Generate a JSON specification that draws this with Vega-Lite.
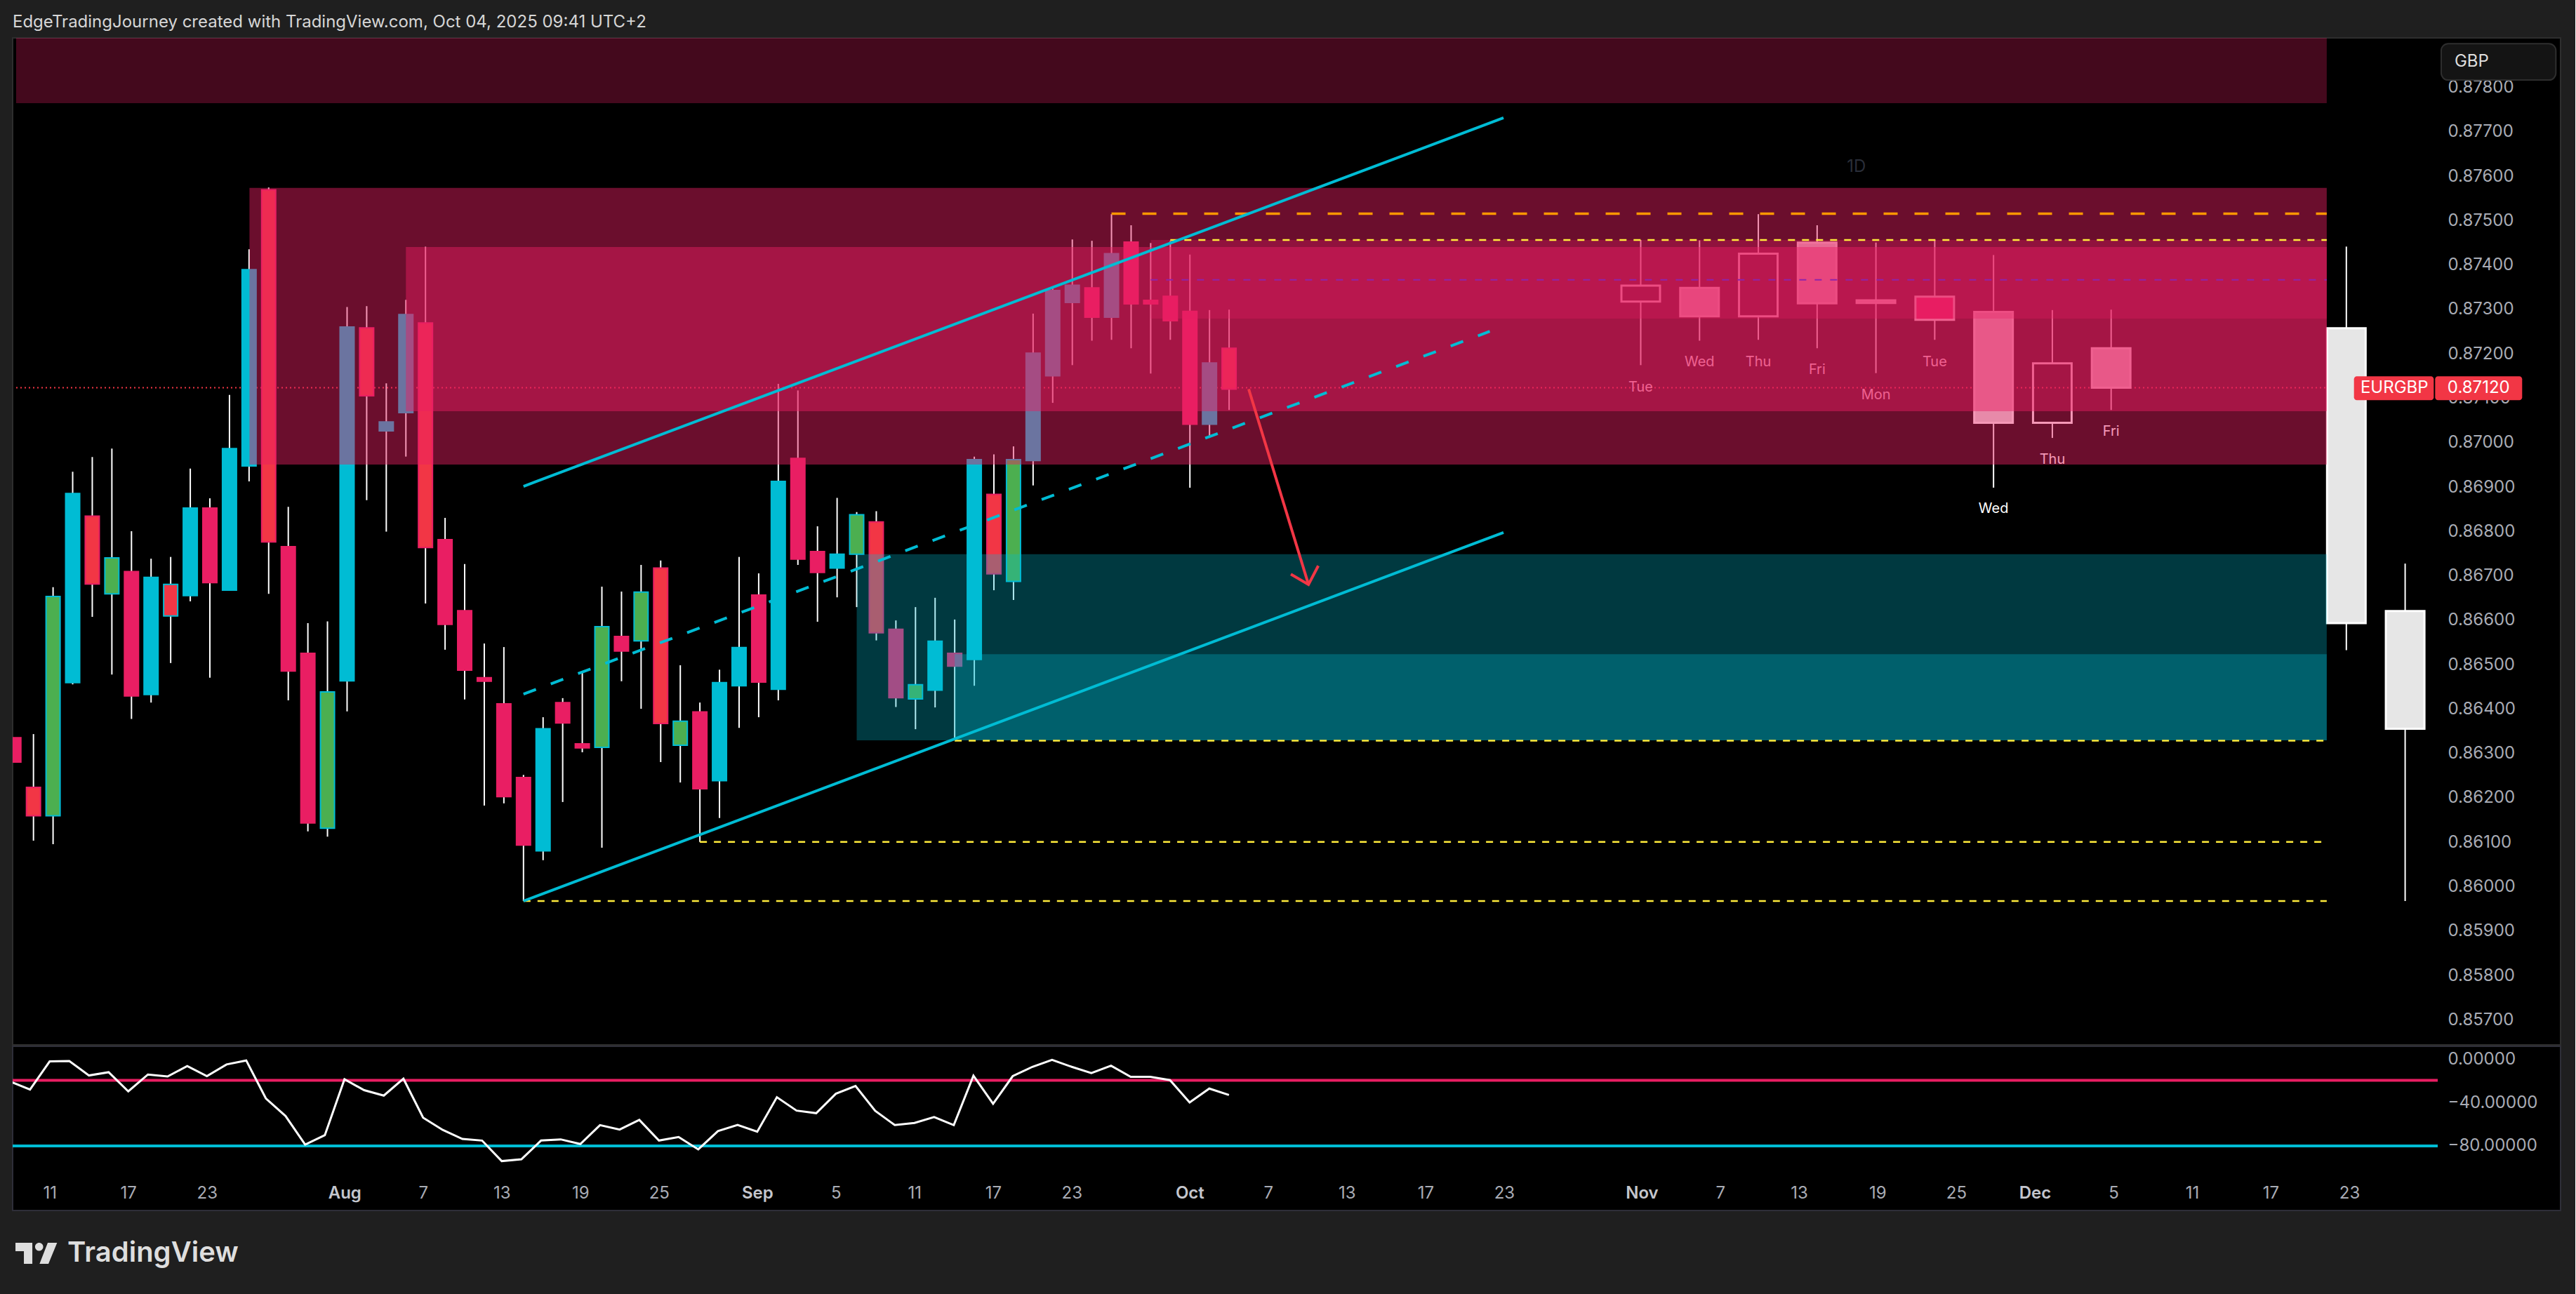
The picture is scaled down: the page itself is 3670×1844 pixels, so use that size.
{"$schema":"https://vega.github.io/schema/vega-lite/v6.json","background":"#1f1f1f","padding":{"left":15,"top":20,"right":20,"bottom":0},"spacing":0,"title":{"text":"EdgeTradingJourney created with TradingView.com, Oct 04, 2025 09:41 UTC+2","anchor":"start","frame":"group","color":"#d6d6d6","font":"Inter","fontSize":24,"fontWeight":400,"offset":9},"config":{"text":{"font":"Inter"},"axis":{"labelFont":"Inter","labelFontSize":24,"grid":false,"ticks":false,"domain":false,"title":null}},"datasets":{"candles":[{"i":-2,"high":0.86334,"low":0.86279,"top":0.86334,"bottom":0.86279,"kind":"p"},{"i":-1,"high":0.86342,"low":0.86102,"top":0.86222,"bottom":0.86158,"kind":"r"},{"i":0,"high":0.86673,"low":0.86094,"top":0.86652,"bottom":0.86158,"kind":"g"},{"i":1,"high":0.86933,"low":0.86454,"top":0.86884,"bottom":0.86458,"kind":"c"},{"i":2,"high":0.86966,"low":0.86606,"top":0.86833,"bottom":0.8668,"kind":"r"},{"i":3,"high":0.86985,"low":0.86476,"top":0.86739,"bottom":0.86658,"kind":"g"},{"i":4,"high":0.86799,"low":0.86376,"top":0.86708,"bottom":0.86428,"kind":"p"},{"i":5,"high":0.86737,"low":0.86413,"top":0.86695,"bottom":0.86431,"kind":"c"},{"i":6,"high":0.86741,"low":0.86502,"top":0.86679,"bottom":0.86608,"kind":"x"},{"i":7,"high":0.8694,"low":0.86641,"top":0.86851,"bottom":0.86654,"kind":"c"},{"i":8,"high":0.86873,"low":0.86469,"top":0.86851,"bottom":0.86683,"kind":"p"},{"i":9,"high":0.87106,"low":0.86665,"top":0.86985,"bottom":0.86666,"kind":"c"},{"i":10,"high":0.87434,"low":0.86911,"top":0.87388,"bottom":0.86946,"kind":"c"},{"i":11,"high":0.87573,"low":0.86658,"top":0.87568,"bottom":0.86775,"kind":"r"},{"i":12,"high":0.86854,"low":0.86418,"top":0.86764,"bottom":0.86484,"kind":"p"},{"i":13,"high":0.86592,"low":0.86123,"top":0.86524,"bottom":0.86142,"kind":"p"},{"i":14,"high":0.86596,"low":0.86111,"top":0.86437,"bottom":0.8613,"kind":"g"},{"i":15,"high":0.87304,"low":0.86393,"top":0.87259,"bottom":0.86462,"kind":"c"},{"i":16,"high":0.87306,"low":0.86869,"top":0.87257,"bottom":0.87104,"kind":"r"},{"i":17,"high":0.87132,"low":0.86798,"top":0.87045,"bottom":0.87025,"kind":"c"},{"i":18,"high":0.8732,"low":0.86967,"top":0.87287,"bottom":0.87066,"kind":"c"},{"i":19,"high":0.8744,"low":0.86636,"top":0.87268,"bottom":0.86762,"kind":"r"},{"i":20,"high":0.86829,"low":0.86532,"top":0.8678,"bottom":0.86589,"kind":"p"},{"i":21,"high":0.86725,"low":0.8642,"top":0.8662,"bottom":0.86486,"kind":"p"},{"i":22,"high":0.86546,"low":0.86181,"top":0.86469,"bottom":0.86461,"kind":"p"},{"i":23,"high":0.86538,"low":0.86186,"top":0.8641,"bottom":0.86201,"kind":"p"},{"i":24,"high":0.8625,"low":0.85966,"top":0.86244,"bottom":0.86092,"kind":"p"},{"i":25,"high":0.8638,"low":0.86058,"top":0.86354,"bottom":0.86079,"kind":"c"},{"i":26,"high":0.86423,"low":0.86189,"top":0.86413,"bottom":0.86367,"kind":"p"},{"i":27,"high":0.86482,"low":0.86301,"top":0.8632,"bottom":0.86311,"kind":"p"},{"i":28,"high":0.86674,"low":0.86086,"top":0.86584,"bottom":0.86312,"kind":"g"},{"i":29,"high":0.86663,"low":0.86461,"top":0.86562,"bottom":0.86529,"kind":"p"},{"i":30,"high":0.86723,"low":0.86399,"top":0.86662,"bottom":0.86552,"kind":"g"},{"i":31,"high":0.86733,"low":0.86279,"top":0.86716,"bottom":0.86366,"kind":"r"},{"i":32,"high":0.86497,"low":0.86233,"top":0.86371,"bottom":0.86317,"kind":"g"},{"i":33,"high":0.86413,"low":0.86099,"top":0.86392,"bottom":0.86219,"kind":"p"},{"i":34,"high":0.86487,"low":0.86153,"top":0.86458,"bottom":0.86237,"kind":"c"},{"i":35,"high":0.86741,"low":0.86356,"top":0.86537,"bottom":0.86451,"kind":"c"},{"i":36,"high":0.86704,"low":0.8638,"top":0.86655,"bottom":0.86459,"kind":"p"},{"i":37,"high":0.87131,"low":0.86418,"top":0.86911,"bottom":0.86443,"kind":"c"},{"i":38,"high":0.87116,"low":0.86723,"top":0.86963,"bottom":0.86736,"kind":"p"},{"i":39,"high":0.8681,"low":0.86595,"top":0.86753,"bottom":0.86706,"kind":"p"},{"i":40,"high":0.86874,"low":0.8665,"top":0.86747,"bottom":0.86716,"kind":"c"},{"i":41,"high":0.86842,"low":0.86628,"top":0.86836,"bottom":0.86747,"kind":"g"},{"i":42,"high":0.86844,"low":0.86553,"top":0.8682,"bottom":0.8657,"kind":"r"},{"i":43,"high":0.86598,"low":0.86403,"top":0.86578,"bottom":0.86424,"kind":"p"},{"i":44,"high":0.86628,"low":0.86353,"top":0.86453,"bottom":0.86421,"kind":"g"},{"i":45,"high":0.86649,"low":0.86402,"top":0.86551,"bottom":0.86441,"kind":"c"},{"i":46,"high":0.866,"low":0.8633,"top":0.86524,"bottom":0.86495,"kind":"p"},{"i":47,"high":0.86967,"low":0.86451,"top":0.8696,"bottom":0.8651,"kind":"c"},{"i":48,"high":0.86972,"low":0.86666,"top":0.86882,"bottom":0.86703,"kind":"r"},{"i":49,"high":0.8699,"low":0.86644,"top":0.8696,"bottom":0.86686,"kind":"g"},{"i":50,"high":0.87289,"low":0.86902,"top":0.872,"bottom":0.86958,"kind":"c"},{"i":51,"high":0.87346,"low":0.87088,"top":0.87341,"bottom":0.87149,"kind":"c"},{"i":52,"high":0.87456,"low":0.87173,"top":0.87353,"bottom":0.87314,"kind":"c"},{"i":53,"high":0.87453,"low":0.87228,"top":0.87347,"bottom":0.87281,"kind":"p"},{"i":54,"high":0.87513,"low":0.8723,"top":0.87424,"bottom":0.87281,"kind":"c"},{"i":55,"high":0.87488,"low":0.87211,"top":0.8745,"bottom":0.87311,"kind":"p"},{"i":56,"high":0.87448,"low":0.87154,"top":0.87319,"bottom":0.87311,"kind":"p"},{"i":57,"high":0.87453,"low":0.8723,"top":0.87328,"bottom":0.87273,"kind":"p"},{"i":58,"high":0.87422,"low":0.86897,"top":0.87294,"bottom":0.8704,"kind":"p"},{"i":59,"high":0.87297,"low":0.87009,"top":0.87178,"bottom":0.8704,"kind":"c"},{"i":60,"high":0.87298,"low":0.87072,"top":0.87211,"bottom":0.87119,"kind":"r"}],"htf":[{"i":81,"high":0.87455,"low":0.87173,"top":0.87352,"bottom":0.87316,"kind":"hollow","day":"Tue","dayPrice":0.87123},{"i":84,"high":0.87454,"low":0.87228,"top":0.87347,"bottom":0.87283,"kind":"solid","day":"Wed","dayPrice":0.8718},{"i":87,"high":0.87513,"low":0.8723,"top":0.87424,"bottom":0.87283,"kind":"hollow","day":"Thu","dayPrice":0.8718},{"i":90,"high":0.87488,"low":0.87211,"top":0.87449,"bottom":0.87312,"kind":"solid","day":"Fri","dayPrice":0.87162},{"i":93,"high":0.87449,"low":0.87155,"top":0.87319,"bottom":0.87313,"kind":"solid","day":"Mon","dayPrice":0.87105},{"i":96,"high":0.87455,"low":0.8723,"top":0.87327,"bottom":0.87275,"kind":"pink","day":"Tue","dayPrice":0.8718},{"i":99,"high":0.87421,"low":0.86897,"top":0.87293,"bottom":0.87043,"kind":"solid","day":"Wed","dayPrice":0.86849},{"i":102,"high":0.87297,"low":0.87009,"top":0.87177,"bottom":0.87043,"kind":"hollow","day":"Thu","dayPrice":0.8696},{"i":105,"high":0.87298,"low":0.87072,"top":0.87211,"bottom":0.87122,"kind":"solid","day":"Fri","dayPrice":0.87023},{"i":117,"high":0.8744,"low":0.86531,"top":0.87256,"bottom":0.86592,"kind":"solid"},{"i":120,"high":0.86726,"low":0.85966,"top":0.86619,"bottom":0.86354,"kind":"solid"}],"zones":[{"zone":"supply top","from":-1.884,"to":116,"upper":0.8791,"lower":0.87763},{"zone":"supply wide","from":10.02,"to":116,"upper":0.87572,"lower":0.86949},{"zone":"supply mid","from":18,"to":116,"upper":0.87439,"lower":0.87069},{"zone":"supply inner","from":56,"to":116,"upper":0.87455,"lower":0.87278},{"zone":"demand wide","from":41,"to":116,"upper":0.86747,"lower":0.86328},{"zone":"demand inner","from":46,"to":116,"upper":0.86522,"lower":0.86328}],"levels":[{"name":"orange","from":54,"to":116,"price":0.87514},{"name":"yellow","from":57,"to":116,"price":0.87455},{"name":"yellow","from":46,"to":116,"price":0.86327},{"name":"yellow","from":33,"to":116,"price":0.86099},{"name":"yellow","from":24,"to":116,"price":0.85966},{"name":"purple","from":56,"to":116,"price":0.87365}],"lines":[{"name":"channel top","i":24,"price":0.869},{"name":"channel top","i":74,"price":0.8773},{"name":"channel bottom","i":24,"price":0.85966},{"name":"channel bottom","i":74,"price":0.86796},{"name":"channel mid","i":24,"price":0.86432},{"name":"channel mid","i":73.3,"price":0.87249},{"name":"arrow shaft","i":61,"price":0.87119},{"name":"arrow shaft","i":64.05,"price":0.86679},{"name":"arrow head","i":63.15,"price":0.86702},{"name":"arrow head","i":64.05,"price":0.86679},{"name":"arrow head","i":64.55,"price":0.86721}],"rsi":[{"i":-2,"v":-20.5},{"i":-1,"v":-27.9},{"i":0,"v":-1.9},{"i":1,"v":-1.5},{"i":2,"v":-14.9},{"i":3,"v":-11.9},{"i":4,"v":-29.6},{"i":5,"v":-14},{"i":6,"v":-15.8},{"i":7,"v":-6.2},{"i":8,"v":-15.5},{"i":9,"v":-4.7},{"i":10,"v":-1},{"i":11,"v":-36.1},{"i":12,"v":-52.4},{"i":13,"v":-78.8},{"i":14,"v":-70.1},{"i":15,"v":-18.4},{"i":16,"v":-28.5},{"i":17,"v":-33.5},{"i":18,"v":-17.9},{"i":19,"v":-53.9},{"i":20,"v":-65.3},{"i":21,"v":-73.6},{"i":22,"v":-75.1},{"i":23,"v":-94.1},{"i":24,"v":-92.4},{"i":25,"v":-75.1},{"i":26,"v":-74},{"i":27,"v":-78.3},{"i":28,"v":-60.8},{"i":29,"v":-64.9},{"i":30,"v":-56},{"i":31,"v":-75.1},{"i":32,"v":-71.8},{"i":33,"v":-83.3},{"i":34,"v":-66.4},{"i":35,"v":-60.6},{"i":36,"v":-66.9},{"i":37,"v":-35},{"i":38,"v":-47.4},{"i":39,"v":-49.8},{"i":40,"v":-31.8},{"i":41,"v":-24.6},{"i":42,"v":-47.6},{"i":43,"v":-60.8},{"i":44,"v":-58.8},{"i":45,"v":-53.4},{"i":46,"v":-60.8},{"i":47,"v":-15.1},{"i":48,"v":-41.1},{"i":49,"v":-15.5},{"i":50,"v":-6.9},{"i":51,"v":-0.5},{"i":52,"v":-6.9},{"i":53,"v":-12.7},{"i":54,"v":-5.8},{"i":55,"v":-16.2},{"i":56,"v":-16.2},{"i":57,"v":-19.2},{"i":58,"v":-39.8},{"i":59,"v":-27},{"i":60,"v":-32.9}],"rsiLevels":[{"name":"upper","from":-1.884,"to":121.5,"v":-19.4},{"name":"lower","from":-1.884,"to":121.5,"v":-80}]},"vconcat":[{"width":3630,"height":1435,"view":{"fill":"#000000","stroke":"#2e2e2e","strokeWidth":2},"resolve":{"scale":{"fill":"independent","stroke":"independent"}},"layer":[{"data":{"values":[{"from":-1.884,"to":117.4,"price":0.87122}]},"mark":{"type":"rule","color":"#f23645","strokeWidth":2,"strokeDash":[2,4],"clip":true},"encoding":{"x":{"field":"from","type":"quantitative","scale":{"domain":[-1.884,127.75],"nice":false,"zero":false},"axis":null},"x2":{"field":"to"},"y":{"field":"price","type":"quantitative","scale":{"domain":[0.85642,0.8791],"nice":false,"zero":false},"axis":{"orient":"right","offset":-161,"labelPadding":0,"labelAlign":"left","labelOffset":1,"labelColor":"#a9acb5","format":".5f","values":[0.857,0.858,0.859,0.86,0.861,0.862,0.863,0.864,0.865,0.866,0.867,0.868,0.869,0.87,0.871,0.872,0.873,0.874,0.875,0.876,0.877,0.878],"labelOverlap":false,"labelBound":false,"labelFlush":false}}}},{"data":{"name":"candles"},"mark":{"type":"rule","color":"#ffffff","strokeWidth":2,"clip":true},"encoding":{"x":{"field":"i","type":"quantitative","scale":{"domain":[-1.884,127.75],"nice":false,"zero":false},"axis":null},"y":{"field":"high","type":"quantitative","scale":{"domain":[0.85642,0.8791],"nice":false,"zero":false}},"y2":{"field":"low"}}},{"data":{"name":"candles"},"mark":{"type":"bar","orient":"vertical","size":20,"strokeWidth":2,"clip":true},"encoding":{"x":{"field":"i","type":"quantitative","scale":{"domain":[-1.884,127.75],"nice":false,"zero":false},"axis":null},"y":{"field":"top","type":"quantitative","scale":{"domain":[0.85642,0.8791],"nice":false,"zero":false}},"y2":{"field":"bottom"},"fill":{"field":"kind","type":"nominal","legend":null,"scale":{"domain":["c","p","r","g","x"],"range":["#00bcd4","#e91e63","#f23645","#4caf50","#f23645"]}},"stroke":{"field":"kind","type":"nominal","legend":null,"scale":{"domain":["c","p","r","g","x"],"range":["#00bcd4","#e91e63","#e91e63","#00bcd4","#00bcd4"]}}}},{"data":{"name":"htf"},"mark":{"type":"rule","color":"#ffffff","strokeWidth":2},"encoding":{"x":{"field":"i","type":"quantitative","scale":{"domain":[-1.884,127.75],"nice":false,"zero":false},"axis":null},"y":{"field":"high","type":"quantitative","scale":{"domain":[0.85642,0.8791],"nice":false,"zero":false}},"y2":{"field":"top"}}},{"data":{"name":"htf"},"mark":{"type":"rule","color":"#ffffff","strokeWidth":2},"encoding":{"x":{"field":"i","type":"quantitative","scale":{"domain":[-1.884,127.75],"nice":false,"zero":false},"axis":null},"y":{"field":"bottom","type":"quantitative","scale":{"domain":[0.85642,0.8791],"nice":false,"zero":false}},"y2":{"field":"low"}}},{"data":{"name":"htf"},"mark":{"type":"bar","orient":"vertical","size":55,"strokeWidth":3,"stroke":"#ffffff"},"encoding":{"x":{"field":"i","type":"quantitative","scale":{"domain":[-1.884,127.75],"nice":false,"zero":false},"axis":null},"y":{"field":"top","type":"quantitative","scale":{"domain":[0.85642,0.8791],"nice":false,"zero":false}},"y2":{"field":"bottom"},"fill":{"field":"kind","type":"nominal","legend":null,"scale":{"domain":["solid","hollow","pink"],"range":["#e6e6e6","transparent","#e91e63"]}}}},{"data":{"name":"htf"},"transform":[{"filter":"isValid(datum.day)"}],"mark":{"type":"text","color":"#ffffff","fontSize":20,"font":"Inter"},"encoding":{"x":{"field":"i","type":"quantitative","scale":{"domain":[-1.884,127.75],"nice":false,"zero":false},"axis":null},"y":{"field":"dayPrice","type":"quantitative","scale":{"domain":[0.85642,0.8791],"nice":false,"zero":false}},"text":{"field":"day"}}},{"data":{"name":"zones"},"transform":[{"filter":"datum.zone=='supply top'"}],"mark":{"type":"rect","clip":true,"color":"#e91e63","opacity":0.29},"encoding":{"x":{"field":"from","type":"quantitative","scale":{"domain":[-1.884,127.75],"nice":false,"zero":false},"axis":null},"x2":{"field":"to"},"y":{"field":"upper","type":"quantitative","scale":{"domain":[0.85642,0.8791],"nice":false,"zero":false}},"y2":{"field":"lower"}}},{"data":{"name":"zones"},"transform":[{"filter":"datum.zone=='supply wide'||datum.zone=='supply mid'"}],"mark":{"type":"rect","clip":true,"color":"#e91e63","opacity":0.46},"encoding":{"x":{"field":"from","type":"quantitative","scale":{"domain":[-1.884,127.75],"nice":false,"zero":false},"axis":null},"x2":{"field":"to"},"y":{"field":"upper","type":"quantitative","scale":{"domain":[0.85642,0.8791],"nice":false,"zero":false}},"y2":{"field":"lower"}}},{"data":{"name":"zones"},"transform":[{"filter":"datum.zone=='supply inner'"}],"mark":{"type":"rect","clip":true,"color":"#e91e63","opacity":0.3},"encoding":{"x":{"field":"from","type":"quantitative","scale":{"domain":[-1.884,127.75],"nice":false,"zero":false},"axis":null},"x2":{"field":"to"},"y":{"field":"upper","type":"quantitative","scale":{"domain":[0.85642,0.8791],"nice":false,"zero":false}},"y2":{"field":"lower"}}},{"data":{"name":"zones"},"transform":[{"filter":"datum.zone=='demand wide'||datum.zone=='demand inner'"}],"mark":{"type":"rect","clip":true,"color":"#00bcd4","opacity":0.3},"encoding":{"x":{"field":"from","type":"quantitative","scale":{"domain":[-1.884,127.75],"nice":false,"zero":false},"axis":null},"x2":{"field":"to"},"y":{"field":"upper","type":"quantitative","scale":{"domain":[0.85642,0.8791],"nice":false,"zero":false}},"y2":{"field":"lower"}}},{"data":{"name":"levels"},"transform":[{"filter":"datum.name=='orange'"}],"mark":{"type":"rule","color":"#ff9800","strokeWidth":3.5,"strokeDash":[20,24]},"encoding":{"x":{"field":"from","type":"quantitative","scale":{"domain":[-1.884,127.75],"nice":false,"zero":false},"axis":null},"x2":{"field":"to"},"y":{"field":"price","type":"quantitative","scale":{"domain":[0.85642,0.8791],"nice":false,"zero":false}}}},{"data":{"name":"levels"},"transform":[{"filter":"datum.name=='yellow'"}],"mark":{"type":"rule","color":"#ffeb3b","strokeWidth":2.5,"strokeDash":[10,10]},"encoding":{"x":{"field":"from","type":"quantitative","scale":{"domain":[-1.884,127.75],"nice":false,"zero":false},"axis":null},"x2":{"field":"to"},"y":{"field":"price","type":"quantitative","scale":{"domain":[0.85642,0.8791],"nice":false,"zero":false}}}},{"data":{"name":"levels"},"transform":[{"filter":"datum.name=='purple'"}],"mark":{"type":"rule","color":"#8e24aa","strokeWidth":2,"strokeDash":[10,12]},"encoding":{"x":{"field":"from","type":"quantitative","scale":{"domain":[-1.884,127.75],"nice":false,"zero":false},"axis":null},"x2":{"field":"to"},"y":{"field":"price","type":"quantitative","scale":{"domain":[0.85642,0.8791],"nice":false,"zero":false}}}},{"data":{"name":"lines"},"transform":[{"filter":"datum.name=='channel top'||datum.name=='channel bottom'"}],"mark":{"type":"line","color":"#00bcd4","strokeWidth":4},"encoding":{"x":{"field":"i","type":"quantitative","scale":{"domain":[-1.884,127.75],"nice":false,"zero":false},"axis":null},"y":{"field":"price","type":"quantitative","scale":{"domain":[0.85642,0.8791],"nice":false,"zero":false}},"detail":{"field":"name"}}},{"data":{"name":"lines"},"transform":[{"filter":"datum.name=='channel mid'"}],"mark":{"type":"line","color":"#00bcd4","strokeWidth":4,"strokeDash":[19,22.5]},"encoding":{"x":{"field":"i","type":"quantitative","scale":{"domain":[-1.884,127.75],"nice":false,"zero":false},"axis":null},"y":{"field":"price","type":"quantitative","scale":{"domain":[0.85642,0.8791],"nice":false,"zero":false}}}},{"data":{"name":"lines"},"transform":[{"filter":"datum.name=='arrow shaft'||datum.name=='arrow head'"}],"mark":{"type":"line","color":"#f23645","strokeWidth":4},"encoding":{"x":{"field":"i","type":"quantitative","scale":{"domain":[-1.884,127.75],"nice":false,"zero":false},"axis":null},"y":{"field":"price","type":"quantitative","scale":{"domain":[0.85642,0.8791],"nice":false,"zero":false}},"detail":{"field":"name"}}},{"data":{"values":[{"from":117.39,"to":121.46,"upper":0.87148,"lower":0.87094},{"from":121.53,"to":125.97,"upper":0.87148,"lower":0.87094}]},"mark":{"type":"rect","color":"#f23645","cornerRadius":4},"encoding":{"x":{"field":"from","type":"quantitative","scale":{"domain":[-1.884,127.75],"nice":false,"zero":false},"axis":null},"x2":{"field":"to"},"y":{"field":"upper","type":"quantitative","scale":{"domain":[0.85642,0.8791],"nice":false,"zero":false}},"y2":{"field":"lower"}}},{"data":{"values":[{"i":119.45,"price":0.87121,"label":"EURGBP"},{"i":123.75,"price":0.87121,"label":"0.87120"}]},"mark":{"type":"text","color":"#ffffff","fontSize":24,"font":"Inter"},"encoding":{"x":{"field":"i","type":"quantitative","scale":{"domain":[-1.884,127.75],"nice":false,"zero":false},"axis":null},"y":{"field":"price","type":"quantitative","scale":{"domain":[0.85642,0.8791],"nice":false,"zero":false}},"text":{"field":"label"}}},{"data":{"values":[{"from":121.84,"to":127.69,"upper":0.87897,"lower":0.87815}]},"mark":{"type":"rect","color":"#141414","stroke":"#2e2e2e","strokeWidth":2,"cornerRadius":10},"encoding":{"x":{"field":"from","type":"quantitative","scale":{"domain":[-1.884,127.75],"nice":false,"zero":false},"axis":null},"x2":{"field":"to"},"y":{"field":"upper","type":"quantitative","scale":{"domain":[0.85642,0.8791],"nice":false,"zero":false}},"y2":{"field":"lower"}}},{"data":{"values":[{"i":122.52,"price":0.87856,"label":"GBP"}]},"mark":{"type":"text","color":"#dddddd","fontSize":24,"font":"Inter","align":"left"},"encoding":{"x":{"field":"i","type":"quantitative","scale":{"domain":[-1.884,127.75],"nice":false,"zero":false},"axis":null},"y":{"field":"price","type":"quantitative","scale":{"domain":[0.85642,0.8791],"nice":false,"zero":false}},"text":{"field":"label"}}},{"data":{"values":[{"i":92,"price":0.87619,"label":"1D"}]},"mark":{"type":"text","color":"#2a2e39","fontSize":24,"font":"Inter"},"encoding":{"x":{"field":"i","type":"quantitative","scale":{"domain":[-1.884,127.75],"nice":false,"zero":false},"axis":null},"y":{"field":"price","type":"quantitative","scale":{"domain":[0.85642,0.8791],"nice":false,"zero":false}},"text":{"field":"label"}}}]},{"width":3630,"height":234,"view":{"fill":"#000000","stroke":"#2e2e38","strokeWidth":2},"layer":[{"data":{"name":"rsiLevels"},"mark":{"type":"rule","strokeWidth":4},"encoding":{"x":{"field":"from","type":"quantitative","scale":{"domain":[-1.884,127.75],"nice":false,"zero":false},"axis":{"orient":"bottom","offset":-37,"labelPadding":0,"labelColor":{"condition":{"test":"indexof([15,36,58,81,101],datum.value)>=0","value":"#c4c6cd"},"value":"#a9acb5"},"labelFontWeight":{"condition":{"test":"indexof([15,36,58,81,101],datum.value)>=0","value":600},"value":400},"values":[0,4,8,15,19,23,27,31,36,40,44,48,52,58,62,66,70,74,81,85,89,93,97,101,105,109,113,117],"labelExpr":"['11','17','23','Aug','7','13','19','25','Sep','5','11','17','23','Oct','7','13','17','23','Nov','7','13','19','25','Dec','5','11','17','23'][indexof([0,4,8,15,19,23,27,31,36,40,44,48,52,58,62,66,70,74,81,85,89,93,97,101,105,109,113,117],datum.value)]","labelOverlap":false,"labelBound":false,"labelFlush":false}},"x2":{"field":"to"},"y":{"field":"v","type":"quantitative","scale":{"domain":[-139.8,12.1],"nice":false,"zero":false},"axis":{"orient":"right","offset":-161,"labelPadding":0,"labelAlign":"left","labelColor":"#a9acb5","format":".5f","values":[0,-40,-80],"labelOverlap":false,"labelBound":false,"labelFlush":false}},"color":{"field":"name","type":"nominal","legend":null,"scale":{"domain":["upper","lower"],"range":["#e91e63","#00bcd4"]}}}},{"data":{"name":"rsi"},"mark":{"type":"line","color":"#ffffff","strokeWidth":3,"clip":true},"encoding":{"x":{"field":"i","type":"quantitative","scale":{"domain":[-1.884,127.75],"nice":false,"zero":false}},"y":{"field":"v","type":"quantitative","scale":{"domain":[-139.8,12.1],"nice":false,"zero":false}}}}]},{"width":3630,"height":120,"view":{"fill":"#1f1f1f","stroke":null},"layer":[{"data":{"values":[{"i":-0.681,"y":0.5}]},"mark":{"type":"point","filled":true,"opacity":1,"color":"#dedede","size":3516,"shape":"M-1,-0.506L-0.19,-0.506L-0.19,0.506L-0.595,0.506L-0.595,-0.101L-1,-0.101ZM-0.059,-0.314a0.196,0.196 0 1,0 0.392,0a0.196,0.196 0 1,0 -0.392,0ZM0.551,-0.506L1,-0.506L0.585,0.506L0.157,0.506Z"},"encoding":{"x":{"field":"i","type":"quantitative","scale":{"domain":[-1.884,127.75],"nice":false,"zero":false},"axis":null},"y":{"field":"y","type":"quantitative","scale":{"domain":[0,1],"nice":false,"zero":false},"axis":null}}},{"data":{"values":[{"i":0.905,"y":0.5,"label":"TradingView"}]},"mark":{"type":"text","color":"#dedede","font":"Inter","fontSize":40,"fontWeight":600,"align":"left"},"encoding":{"x":{"field":"i","type":"quantitative","scale":{"domain":[-1.884,127.75],"nice":false,"zero":false},"axis":null},"y":{"field":"y","type":"quantitative","scale":{"domain":[0,1],"nice":false,"zero":false},"axis":null},"text":{"field":"label"}}}]}]}
